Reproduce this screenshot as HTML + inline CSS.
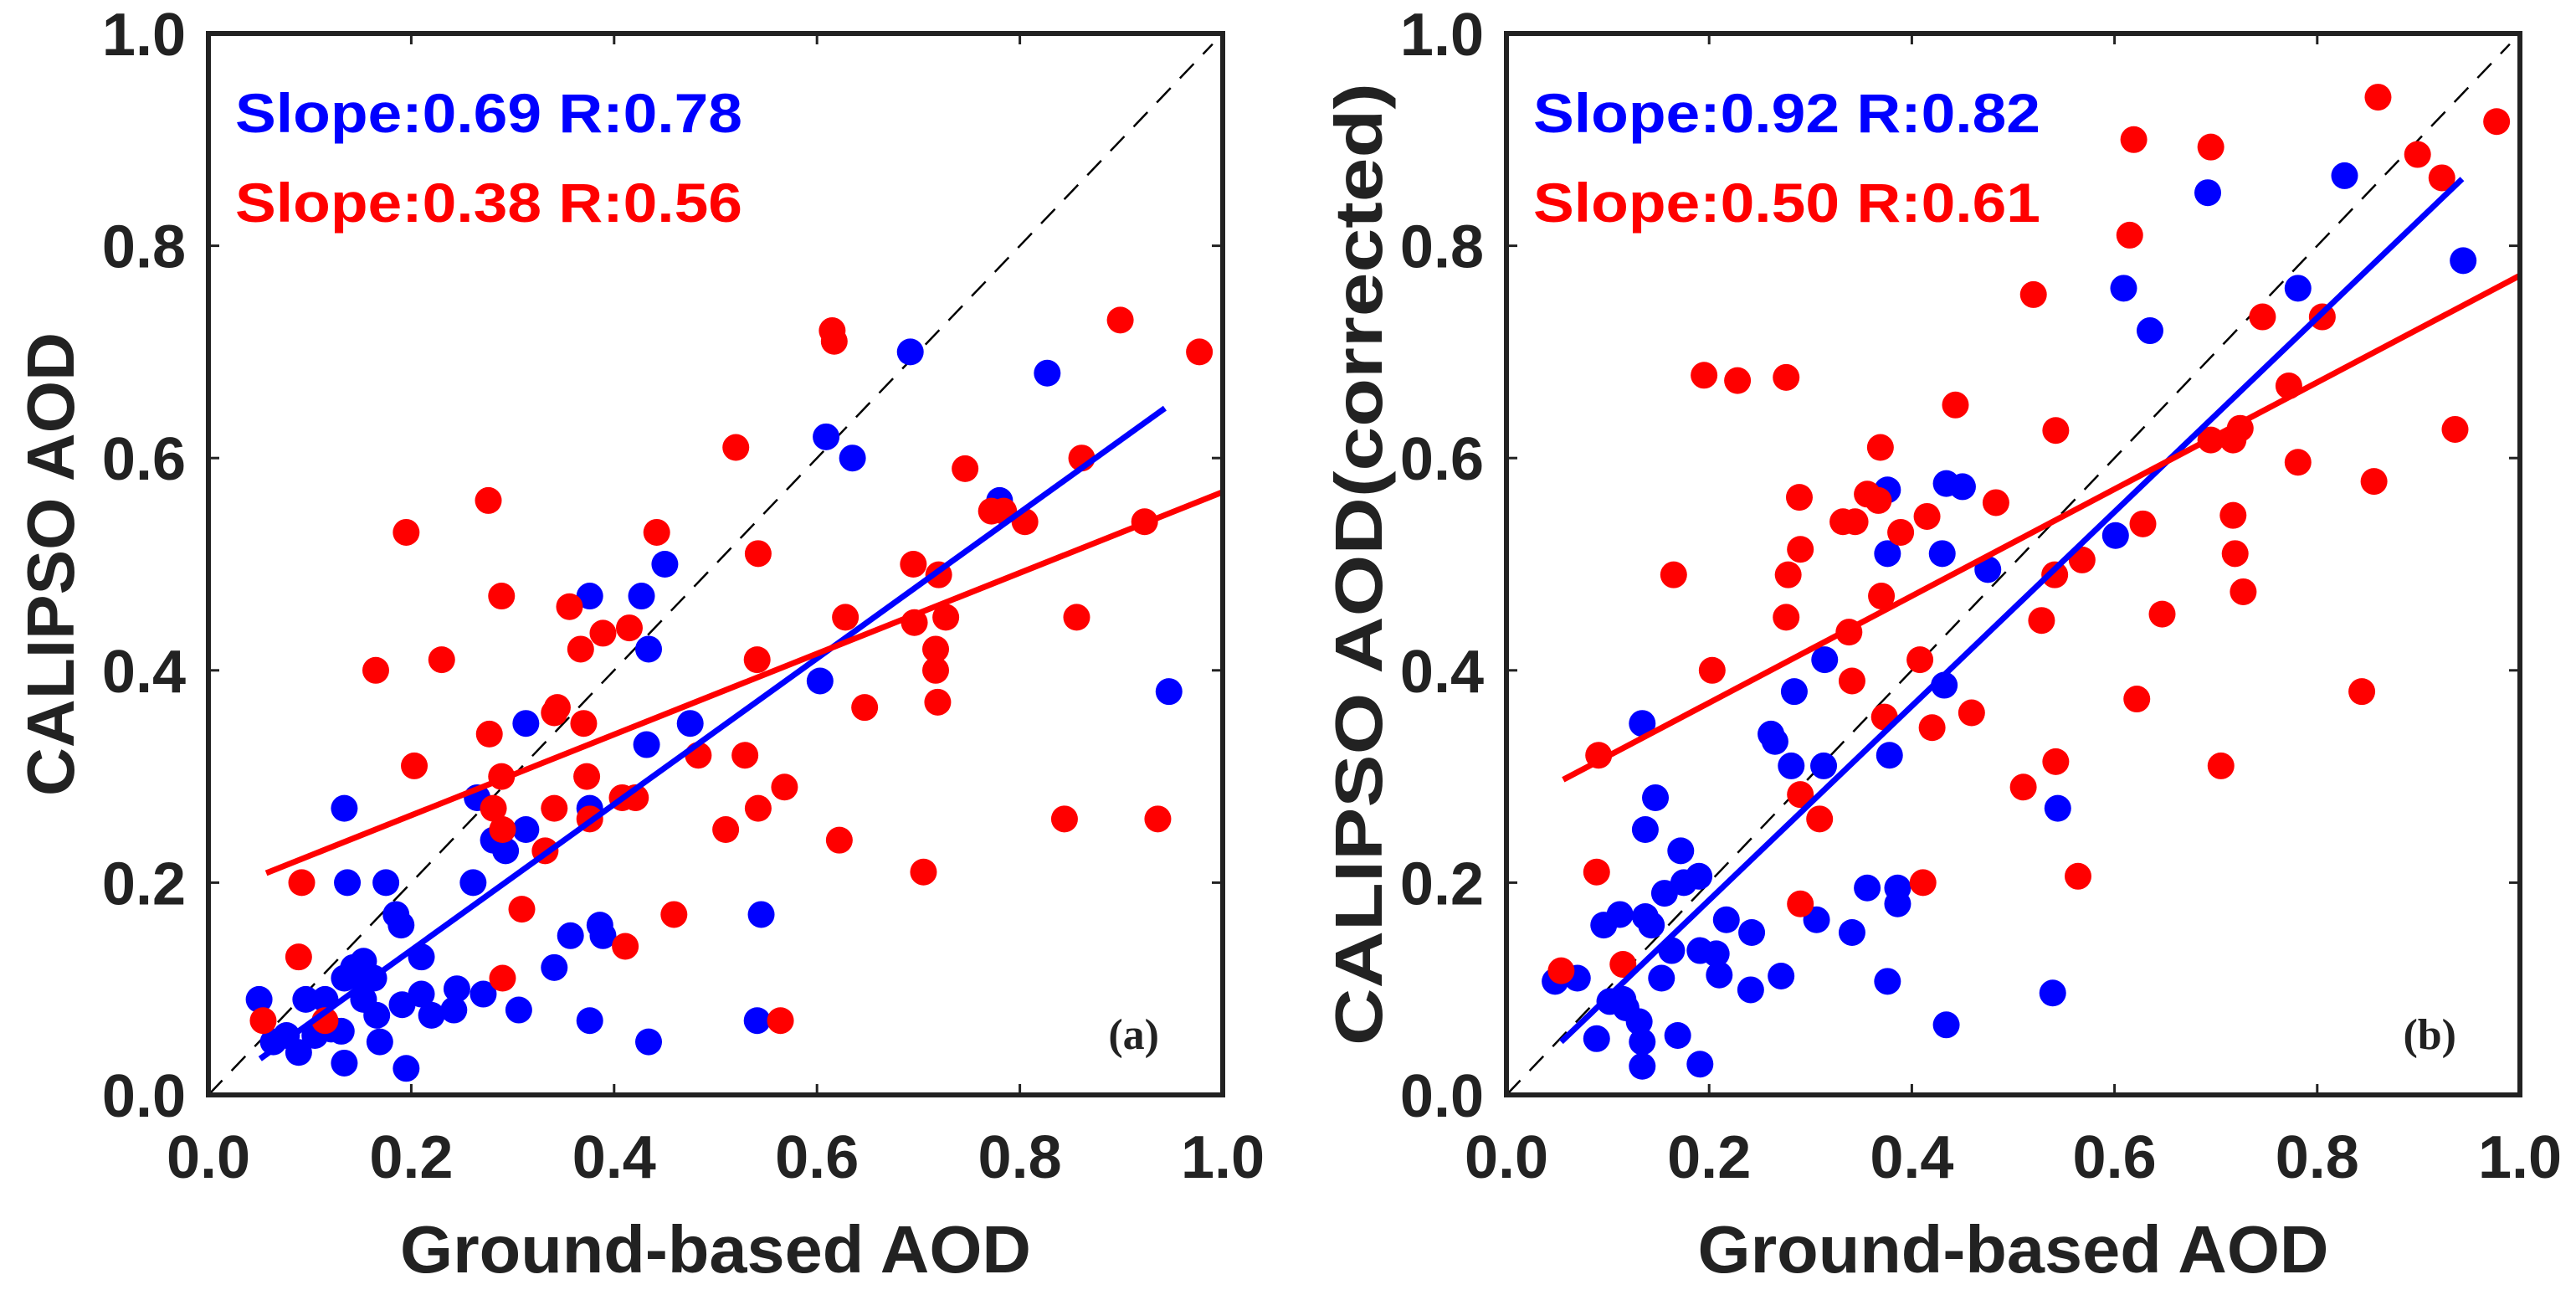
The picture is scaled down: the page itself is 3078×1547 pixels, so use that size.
<!DOCTYPE html>
<html><head><meta charset="utf-8"><style>
html,body{margin:0;padding:0;background:#fff;}
svg{display:block;font-family:"Liberation Sans",Arial,sans-serif;}
</style></head><body>
<svg id="fig" width="3078" height="1547" viewBox="0 0 3078 1547" xmlns="http://www.w3.org/2000/svg"></svg>
<script>
// ---- data ----
const tickValues = [0, 0.2, 0.4, 0.6, 0.8, 1.0];
const tickLabels = ["0.0","0.2","0.4","0.6","0.8","1.0"];
const aBlueX = [.05,.064,.089,.096,.105,.115,.134,.137,.134,.131,.134,.143,.15,.153,.163,.169,.175,.185,.19,.191,.195,.21,.21,.22,.242,.245,.261,.265,.271,.281,.293,.306,.313,.313,.341,.357,.376,.376,.376,.386,.389,.427,.434,.434,.432,.45,.475,.541,.545,.603,.609,.635,.692,.78,.827,.947,.153,.166,.121,.077];
const aBlueY = [.09,.05,.04,.09,.056,.09,.27,.20,.11,.06,.03,.12,.11,.09,.11,.05,.20,.17,.16,.085,.025,.13,.095,.075,.08,.10,.20,.28,.095,.24,.23,.08,.25,.35,.12,.15,.47,.27,.07,.16,.15,.47,.42,.05,.33,.50,.35,.07,.17,.39,.62,.60,.70,.56,.68,.38,.126,.075,.062,.056];
const aRedX = [.054,.089,.092,.115,.165,.195,.203,.23,.276,.277,.289,.281,.289,.29,.29,.309,.332,.341,.341,.344,.356,.367,.37,.373,.376,.389,.415,.408,.421,.411,.442,.459,.483,.51,.52,.529,.542,.541,.542,.564,.568,.615,.617,.622,.628,.647,.695,.696,.705,.717,.717,.719,.72,.727,.746,.772,.784,.805,.856,.861,.844,.899,.923,.936,.977];
const aRedY = [.07,.13,.20,.07,.40,.53,.31,.41,.56,.34,.47,.27,.30,.25,.11,.175,.23,.27,.36,.365,.46,.42,.35,.30,.26,.435,.44,.28,.28,.14,.53,.17,.32,.25,.61,.32,.51,.41,.27,.07,.29,.72,.71,.24,.45,.365,.50,.445,.21,.42,.40,.37,.49,.45,.59,.55,.55,.54,.45,.60,.26,.73,.54,.26,.70];
const aBlueFit = [[.051,.034],[.943,.647]];
const aRedFit = [[.057,.209],[1.0,.568]];
const bBlueX = [.048,.07,.089,.096,.102,.112,.115,.118,.131,.134,.134,.134,.137,.137,.147,.143,.153,.156,.163,.169,.172,.175,.19,.191,.191,.207,.21,.217,.242,.241,.261,.265,.271,.281,.284,.306,.313,.314,.341,.356,.376,.376,.378,.376,.386,.386,.43,.432,.434,.45,.434,.475,.539,.544,.601,.609,.635,.692,.781,.827,.944];
const bBlueY = [.107,.11,.053,.16,.088,.17,.09,.082,.069,.05,.027,.35,.25,.168,.28,.16,.11,.19,.136,.056,.23,.20,.206,.136,.029,.133,.113,.165,.153,.099,.34,.333,.112,.31,.38,.165,.31,.41,.153,.195,.57,.51,.32,.107,.195,.18,.51,.386,.576,.573,.066,.495,.096,.27,.527,.76,.72,.85,.76,.866,.786];
const bRedX = [.054,.089,.091,.115,.165,.195,.203,.228,.276,.276,.278,.289,.29,.29,.29,.309,.332,.338,.344,.341,.356,.367,.369,.37,.373,.389,.408,.415,.411,.42,.443,.459,.483,.51,.52,.528,.541,.542,.542,.564,.568,.615,.619,.622,.628,.647,.695,.695,.705,.717,.717,.719,.727,.724,.746,.772,.781,.805,.844,.856,.86,.899,.923,.936,.977];
const bRedY = [.117,.21,.32,.123,.49,.678,.40,.673,.676,.45,.49,.563,.514,.283,.18,.26,.54,.436,.54,.39,.566,.56,.61,.47,.356,.53,.41,.545,.20,.346,.65,.36,.558,.29,.754,.447,.49,.626,.314,.206,.504,.81,.90,.373,.538,.453,.893,.617,.31,.617,.546,.51,.474,.628,.733,.668,.596,.733,.38,.578,.94,.886,.864,.627,.917];
const bBlueFit = [[.054,.05],[.943,.863]];
const bRedFit = [[.056,.297],[1.0,.772]];

const NS = "http://www.w3.org/2000/svg";
const svg = document.getElementById('fig');
function mk(tag, attrs, parent){ const e=document.createElementNS(NS,tag); for(const k in attrs) e.setAttribute(k,attrs[k]); (parent||svg).appendChild(e); return e; }

function panel(id, L, R, T, B, bx, by, rx, ry, fitB, fitR, slopeB, slopeR, ylabel, ylx, ylen, tag){
  const g = mk('g',{});
  
  
  const sx = v => L + v*(R-L);
  const sy = v => B - v*(B-T);
  // diagonal 1:1 line
  const d = mk('line',{x1:sx(0),y1:sy(0),x2:sx(0.99),y2:sy(0.99),stroke:'#000','stroke-width':2.5,'stroke-dasharray':'24 16'},g);
  
  
  // blue points
  for(let i=0;i<bx.length;i++){
    const c = mk('circle',{cx:sx(bx[i]),cy:sy(by[i]),r:16,fill:'#0000ff'},g);
    
    
  }
  for(let i=0;i<rx.length;i++){
    const c = mk('circle',{cx:sx(rx[i]),cy:sy(ry[i]),r:16,fill:'#ff0000'},g);
    
    
  }
  const lb = mk('line',{x1:sx(fitB[0][0]),y1:sy(fitB[0][1]),x2:sx(fitB[1][0]),y2:sy(fitB[1][1]),stroke:'#0000ff','stroke-width':7},g);
  
  
  const lr = mk('line',{x1:sx(fitR[0][0]),y1:sy(fitR[0][1]),x2:sx(fitR[1][0]),y2:sy(fitR[1][1]),stroke:'#ff0000','stroke-width':7},g);
  
  
  // ticks
  for(let i=0;i<tickValues.length;i++){
    const v=tickValues[i];
    if(v>0 && v<1){
      mk('line',{x1:sx(v),y1:B,x2:sx(v),y2:B-13,stroke:'#222','stroke-width':3},g);
      mk('line',{x1:sx(v),y1:T,x2:sx(v),y2:T+13,stroke:'#222','stroke-width':3},g);
      mk('line',{x1:L,y1:sy(v),x2:L+13,y2:sy(v),stroke:'#222','stroke-width':3},g);
      mk('line',{x1:R,y1:sy(v),x2:R-13,y2:sy(v),stroke:'#222','stroke-width':3},g);
    }
    const xt = mk('text',{x:sx(v),y:1407,'text-anchor':'middle','font-size':72,'font-weight':'bold',fill:'#222'},g);
    xt.textContent = tickLabels[i];
    
    
    const yt = mk('text',{x:L-27,y:sy(v)+26,'text-anchor':'end','font-size':72,'font-weight':'bold',fill:'#222'},g);
    yt.textContent = tickLabels[i];
    
    
  }
  const fr = mk('rect',{x:L,y:T,width:R-L,height:B-T,fill:'none',stroke:'#222','stroke-width':6},g);
  
  
  const t1 = mk('text',{x:L+32,y:158,'font-size':66,'font-weight':'bold',fill:'#0000ff',textLength:606,lengthAdjust:'spacingAndGlyphs'},g);
  t1.textContent = slopeB;
  
  
  const t2 = mk('text',{x:L+32,y:265,'font-size':66,'font-weight':'bold',fill:'#ff0000',textLength:606,lengthAdjust:'spacingAndGlyphs'},g);
  t2.textContent = slopeR;
  
  
  const pl = mk('text',{x:R-76,y:1253,'text-anchor':'end','font-size':52,'font-weight':'bold',fill:'#222','font-family':'"Liberation Serif",serif'},g);
  pl.textContent = tag;
  
  
  const xl = mk('text',{x:(L+R)/2,y:1520,'text-anchor':'middle','font-size':80,'font-weight':'bold',fill:'#222',textLength:754,lengthAdjust:'spacingAndGlyphs'},g);
  xl.textContent = 'Ground-based AOD';
  
  
  const cy=(T+B)/2;
  const yl = mk('text',{x:ylx,y:cy,'text-anchor':'middle','font-size':80,'font-weight':'bold',fill:'#222',transform:`rotate(-90 ${ylx} ${cy})`,textLength:ylen,lengthAdjust:'spacingAndGlyphs'},g);
  yl.textContent = ylabel;
  
  
}
panel('a',249,1461,40,1308,aBlueX,aBlueY,aRedX,aRedY,aBlueFit,aRedFit,'Slope:0.69 R:0.78','Slope:0.38 R:0.56','CALIPSO AOD',88,554,'(a)');
panel('b',1800,3011,40,1308,bBlueX,bBlueY,bRedX,bRedY,bBlueFit,bRedFit,'Slope:0.92 R:0.82','Slope:0.50 R:0.61','CALIPSO AOD(corrected)',1651,1150,'(b)');
</script>
</body></html>
